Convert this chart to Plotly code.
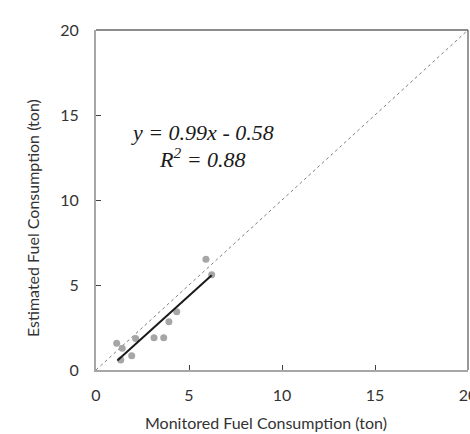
import plotly.graph_objects as go

monitored = [5.91, 6.22, 4.34, 3.92, 3.12, 3.64, 2.13, 1.11, 1.41, 1.92, 1.33]
estimated = [6.51, 5.60, 3.43, 2.84, 1.90, 1.90, 1.86, 1.57, 1.28, 0.84, 0.59]
slope, intercept = 0.99, -0.58
fit_x = [1.15, 6.22]
diag = [0, 20]
tick_vals = [0, 5, 10, 15, 20]
x_title = "Monitored Fuel Consumption (ton)"
y_title = "Estimated Fuel Consumption (ton)"

L, R, T, B, W, H = 96, 2, 30, 64, 470, 434
PW, PH = W - L - R, H - T - B


def px_to_paper(px, py):
    return (px - L) / PW, (H - B - py) / PH


fig = go.Figure()
fig.add_trace(go.Scatter(x=diag, y=diag, mode="lines",
                         line=dict(color="#808080", width=1, dash="dot"), hoverinfo="skip"))
fig.add_trace(go.Scatter(x=monitored, y=estimated, mode="markers",
                         marker=dict(color="#a6a6a6", size=7)))
fig.add_trace(go.Scatter(x=fit_x, y=[slope * v + intercept for v in fit_x], mode="lines",
                         line=dict(color="#1a1a1a", width=2)))

axis_common = dict(range=[0, 20], tickvals=tick_vals, showgrid=False, zeroline=False,
                   showline=True, linecolor="#a6a6a6", linewidth=2,
                   ticks="inside", ticklen=5, tickcolor="#404040", tickwidth=1,
                   ticklabeloverflow="allow",
                   tickfont=dict(family="Lato", size=16, color="#333333"))

title_font = dict(family="Lato", size=16, color="#333333")
xt = px_to_paper(266, 423)
yt = px_to_paper(32, 218)

fig.update_layout(
    width=W, height=H,
    margin=dict(l=L, r=R, t=T, b=B, autoexpand=False),
    paper_bgcolor="white", plot_bgcolor="white",
    showlegend=False,
    xaxis=dict(**axis_common, ticklabelstandoff=10),
    yaxis=dict(**axis_common, ticklabelstandoff=12),
    shapes=[
        dict(type="line", xref="paper", yref="paper", x0=0, x1=1, y0=1, y1=1,
             line=dict(color="#1a1a1a", width=1)),
        dict(type="line", xref="paper", yref="paper", x0=1, x1=1, y0=0, y1=1,
             line=dict(color="#333333", width=1)),
    ],
    annotations=[
        dict(x=5.75, y=14.0, xref="x", yref="y", showarrow=False,
             text="<i>y = 0.99x - 0.58</i>",
             font=dict(family="Liberation Serif", size=22, color="#1a1a1a")),
        dict(x=5.75, y=12.45, xref="x", yref="y", showarrow=False,
             text="<i>R<sup>2</sup> = 0.88</i>",
             font=dict(family="Liberation Serif", size=22, color="#1a1a1a")),
        dict(x=xt[0], y=xt[1], xref="paper", yref="paper", showarrow=False,
             text=x_title, font=title_font, xanchor="center", yanchor="middle"),
        dict(x=yt[0], y=yt[1], xref="paper", yref="paper", showarrow=False,
             text=y_title, font=title_font, textangle=-90,
             xanchor="center", yanchor="middle"),
    ],
)
fig.write_html("out.html")
